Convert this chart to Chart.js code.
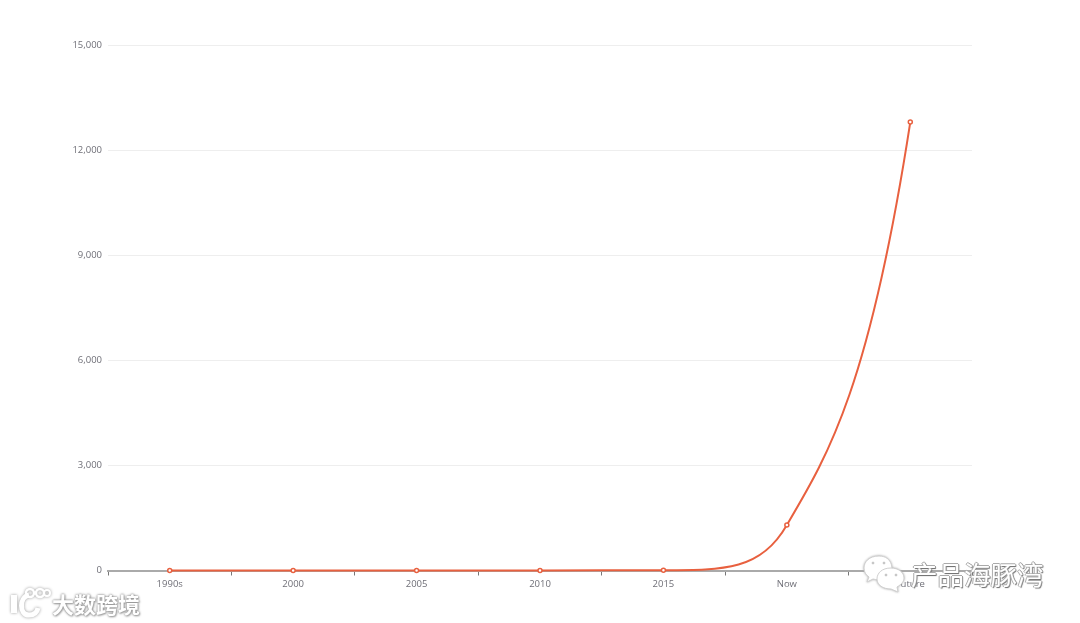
<!DOCTYPE html>
<html>
<head>
<meta charset="utf-8">
<style>
  html, body { margin: 0; padding: 0; background: #fff; }
  #wrap { position: relative; width: 1080px; height: 623px; overflow: hidden; }
  canvas { display: block; }
  .mark { position: absolute; color: #fff; font-family: "Noto Sans CJK SC"; white-space: nowrap; }
  #wm1 { left: 52px; top: 589px; font-size: 22px; line-height: 28px; font-weight: 700;
    text-shadow: 0 0 2px #888, 0 0 3px #aaa, 1px 1px 2px #aaa; }
  #wm2 { left: 911px; top: 556px; font-size: 26.5px; line-height: 36px;
    text-shadow: -1px 0 #aaa, 1px 0 #999, 0 -1px #aaa, 1px 1px 1px #666; }
  svg { position: absolute; }
</style>
<script src="https://cdn.jsdelivr.net/npm/chart.js@4"></script>
</head>
<body>
<div id="wrap">
  <canvas id="myChart" width="1080" height="623"></canvas>

  <svg style="left:8px;top:586px;filter:drop-shadow(0 0 1.5px #999)" width="44" height="33" viewBox="0 0 44 33" fill="none" stroke="#fff">
    <path d="M6 9 L6 27" stroke-width="6"/>
    <path d="M21 9 C11 11 11 29 21 29 C26 29 29 27 30 22" stroke-width="5"/>
    <circle cx="22" cy="7" r="4" stroke-width="2.5"/>
    <circle cx="32" cy="7" r="4" stroke-width="2.5"/>
    <circle cx="39" cy="7" r="3" stroke-width="2"/>
  </svg>
  <div class="mark" id="wm1">大数跨境</div>

  <svg style="left:861px;top:554px;filter:drop-shadow(0 0 1px #aaa)" width="48" height="40" viewBox="0 0 48 40" fill="#fff" stroke="#d0d0d0" stroke-width="1">
    <path d="M18 2 C8 2 3 8 3 14 C3 18 5 21 8 23 L6 28 L12 25 C15 26 20 26 24 24 C34 22 34 2 18 2 Z"/>
    <path d="M30 14 C21 14 16 19 16 25 C16 31 22 35 30 35 L37 38 L36 33 C41 30 43 27 43 24 C43 18 37 14 30 14 Z"/>
    <circle cx="12" cy="9" r="1" fill="#999"/><circle cx="23" cy="9" r="1" fill="#999"/>
    <circle cx="25" cy="21" r="1" fill="#999"/><circle cx="35" cy="21" r="1" fill="#999"/>
  </svg>
  <div class="mark" id="wm2">产品海豚湾</div>
</div>

<script>
var categories = ["1990s", "2000", "2005", "2010", "2015", "Now", "Future"];
var values = [0, 0, 1, 3, 10, 1300, 12800];
var yMax = 15000;
var yStep = 3000;

var labelColor = "#6f6f77";
var lineColor = "#e8603f";

// the default spline makes an S in the last stretch, so reshape the two handles there
var curveFix = {
  id: "curveFix",
  beforeDatasetDraw: function (chart, args) {
    var line = args.meta.dataset;
    line.updateControlPoints(chart.chartArea);
    var pts = args.meta.data;
    var n = pts.length - 1;
    var last = pts[n], now = pts[n - 1], before = pts[n - 2];
    var dx = last.x - now.x;

    before.cp2x = before.x + dx * 0.5;
    before.cp2y = before.y;
    now.cp1x = now.x - dx * 0.21;
    now.cp1y = before.y;

    now.cp2x = now.x + dx / 3;
    now.cp2y = now.y + (last.y - now.y) * 0.173;
    last.cp1x = last.x - dx / 3;
    last.cp1y = last.y + (now.y - last.y) * 0.66;
  }
};

new Chart("myChart", {
  type: "line",
  data: {
    labels: categories,
    datasets: [{
      data: values,
      borderColor: lineColor,
      borderWidth: 2,
      backgroundColor: "#fff",
      pointBorderColor: lineColor,
      pointBackgroundColor: "#fff",
      pointBorderWidth: 1.5,
      pointRadius: 2,
      tension: 0.5,
      clip: false
    }]
  },
  plugins: [curveFix],
  options: {
    responsive: false,
    animation: false,
    layout: { padding: { top: 45, right: 108, left: 0, bottom: 0 } },
    plugins: { legend: { display: false }, tooltip: { enabled: false } },
    scales: {
      x: {
        offset: true,
        afterFit: function (s) { s.height = 52.5; },
        border: { color: "#aaaaaa", width: 2 },
        grid: { offset: true, drawOnChartArea: false, color: "#777", tickLength: 5, tickWidth: 1 },
        ticks: { color: labelColor, font: { family: "Open Sans", size: 9.5 }, padding: 3, maxRotation: 0, autoSkip: false }
      },
      y: {
        min: 0,
        max: yMax,
        afterFit: function (s) { s.width = 108; },
        border: { display: false },
        grid: { color: "#eeeeee", tickLength: 0 },
        ticks: { stepSize: yStep, color: labelColor, font: { family: "Open Sans", size: 9.5 }, padding: 6 }
      }
    }
  }
});
</script>
</body>
</html>
